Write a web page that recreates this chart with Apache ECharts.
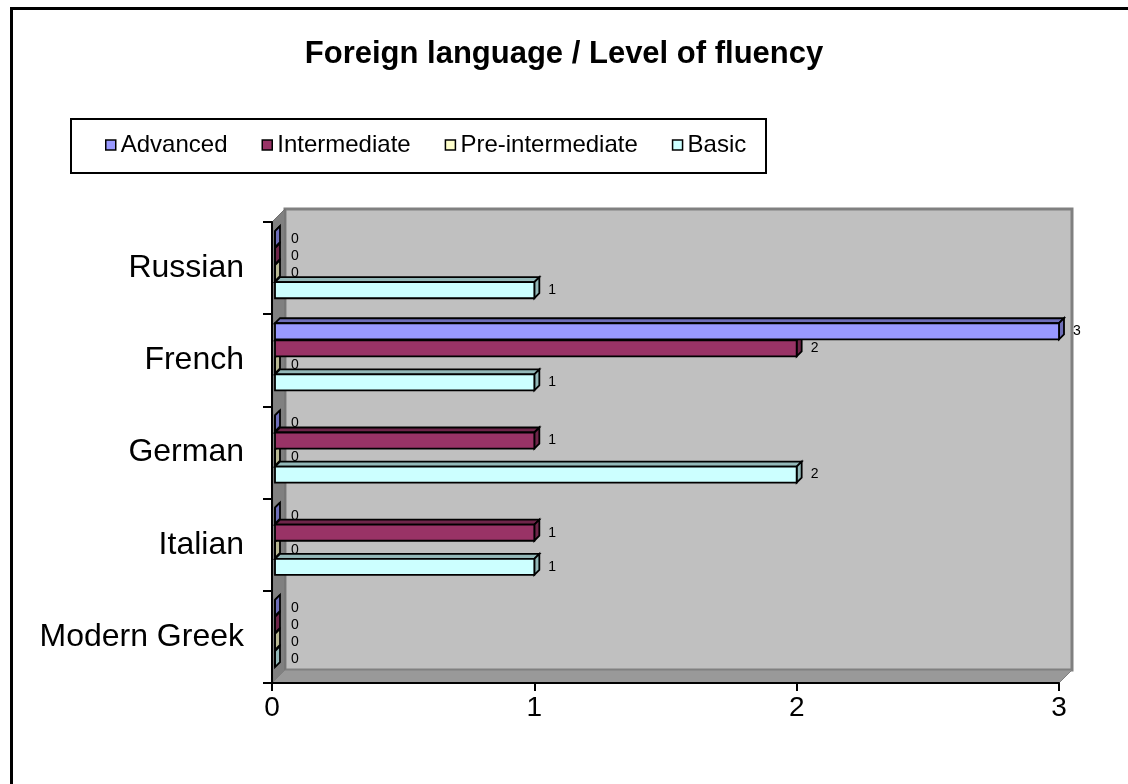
<!DOCTYPE html>
<html>
<head>
<meta charset="utf-8">
<script src="https://cdn.jsdelivr.net/npm/echarts@6/dist/echarts.min.js"></script>
<style>
  html, body { margin: 0; padding: 0; background: #fff; }
  #chart { width: 1128px; height: 784px; }
</style>
</head>
<body>
<div id="chart"></div>
<script>
// categories bottom -> top, as the category axis runs upward
const categories = ['Modern Greek', 'Italian', 'German', 'French', 'Russian'];
const levels = ['Advanced', 'Intermediate', 'Pre-intermediate', 'Basic'];
const advanced = [0, 0, 0, 3, 0];
const intermediate = [0, 1, 1, 2, 0];
const preIntermediate = [0, 0, 0, 0, 0];
const basic = [0, 1, 2, 1, 1];
const xTicks = [0, 1, 2, 3];

const colors = {
  'Advanced': '#9999FF',
  'Intermediate': '#993366',
  'Pre-intermediate': '#FFFFCC',
  'Basic': '#CCFFFF'
};
const FONT = '"Liberation Sans", Arial, sans-serif';
const DEPTH = 5;      // bar 3d depth
const WALL = 13;      // wall 3d depth

function shade(hex, f) {
  const n = parseInt(hex.slice(1), 16);
  const r = Math.round(((n >> 16) & 255) * f);
  const g = Math.round(((n >> 8) & 255) * f);
  const b = Math.round((n & 255) * f);
  return 'rgb(' + r + ',' + g + ',' + b + ')';
}

function barRender(slot, color) {
  return function (params, api) {
    const cat = api.value(0);
    const v = api.value(1);
    const p0 = api.coord([0, cat]);
    const p1 = api.coord([v, cat]);
    const band = api.size([0, 1])[1];
    const h = band * 0.174;
    const top = p0[1] - band / 2 + band * 0.098 + band * 0.185 * slot;
    const x0 = p0[0] + 3, x1 = Math.max(p1[0], x0), d = DEPTH;
    const stroke = { stroke: '#000', lineWidth: 1.8 };
    const side = shade(color, 0.72);
    const children = [
      { type: 'polygon', shape: { points: [[x0, top], [x0 + d, top - d], [x1 + d, top - d], [x1, top]] },
        style: Object.assign({ fill: side }, stroke) },
      { type: 'polygon', shape: { points: [[x1, top], [x1 + d, top - d], [x1 + d, top + h - d], [x1, top + h]] },
        style: Object.assign({ fill: side }, stroke) },
      { type: 'rect', shape: { x: x0, y: top, width: x1 - x0, height: h },
        style: Object.assign({ fill: color }, stroke) },
      { type: 'text', style: {
          text: String(v), x: v === 0 ? x0 + d + 11 : x1 + d + 9, y: top + h / 2,
          fill: '#000', font: '14px ' + FONT, textAlign: 'left', textVerticalAlign: 'middle' } }
    ];
    return { type: 'group', children: children };
  };
}

function wallRender(params, api) {
  const c = params.coordSys;
  const x = c.x, y = c.y, w = c.width, h = c.height, D = WALL;
  return {
    type: 'group',
    children: [
      { type: 'rect', shape: { x: x + D, y: y - D, width: w, height: h },
        style: { fill: '#C0C0C0', stroke: '#808080', lineWidth: 3 } },
      { type: 'polygon', shape: { points: [[x, y], [x + D, y - D], [x + D, y + h - D], [x, y + h]] },
        style: { fill: '#808080', stroke: '#6e6e6e', lineWidth: 1 } },
      { type: 'polygon', shape: { points: [[x, y + h], [x + D, y + h - D], [x + w + D, y + h - D], [x + w, y + h]] },
        style: { fill: '#999999', stroke: '#808080', lineWidth: 1 } }
    ]
  };
}

const seriesData = {
  'Advanced': advanced,
  'Intermediate': intermediate,
  'Pre-intermediate': preIntermediate,
  'Basic': basic
};

// draw lower slots first so upper bars cover their top faces
const barSeries = levels.slice().reverse().map(function (name) {
  const slot = levels.indexOf(name);
  return {
    name: name,
    type: 'custom',
    z: 3,
    itemStyle: { color: colors[name] },
    encode: { x: 1, y: 0 },
    data: seriesData[name].map(function (v, i) { return [i, v]; }),
    renderItem: barRender(slot, colors[name])
  };
});

const chart = echarts.init(document.getElementById('chart'));
chart.setOption({
  animation: false,
  backgroundColor: '#fff',
  title: {
    text: 'Foreign language / Level of fluency',
    left: 'center',
    top: 39,
    padding: 0,
    textStyle: { fontFamily: FONT, fontSize: 31, fontWeight: 'bold', color: '#000' }
  },
  graphic: [
    { type: 'rect', left: 9, top: 6, z: 100, silent: true,
      shape: { width: 1200, height: 900 }, style: { fill: 'none', stroke: '#000', lineWidth: 3 } },
    { type: 'rect', left: 70, top: 118, z: -10, silent: true,
      shape: { width: 695, height: 54 }, style: { fill: '#fff', stroke: '#000', lineWidth: 2 } }
  ],
  legend: {
    data: levels,
    left: 105,
    top: 133,
    padding: 0,
    itemGap: 34,
    itemWidth: 10,
    itemHeight: 10,
    icon: 'rect',
    itemStyle: { borderColor: '#000', borderWidth: 1.5 },
    textStyle: { fontFamily: FONT, fontSize: 24, color: '#000' }
  },
  grid: { left: 272, right: 69, top: 222, bottom: 101 },
  xAxis: {
    type: 'value',
    min: xTicks[0],
    max: xTicks[xTicks.length - 1],
    interval: 1,
    axisLine: { show: true, lineStyle: { color: '#000', width: 2 } },
    axisTick: { show: true, length: 8, lineStyle: { color: '#000', width: 2 } },
    splitLine: { show: false },
    axisLabel: { margin: 11, fontFamily: FONT, fontSize: 28, color: '#000' }
  },
  yAxis: {
    type: 'category',
    data: categories,
    axisLine: { show: true, lineStyle: { color: '#000', width: 2 } },
    axisTick: { show: true, length: 9, lineStyle: { color: '#000', width: 2 } },
    axisLabel: { margin: 28, fontFamily: FONT, fontSize: 32, color: '#000', padding: [6, 0, 0, 0] }
  },
  series: [{
    type: 'custom',
    name: 'walls',
    z: -1,
    silent: true,
    encode: { x: 1, y: 0 },
    data: [[0, 0]],
    renderItem: wallRender
  }].concat(barSeries)
});
</script>
</body>
</html>
